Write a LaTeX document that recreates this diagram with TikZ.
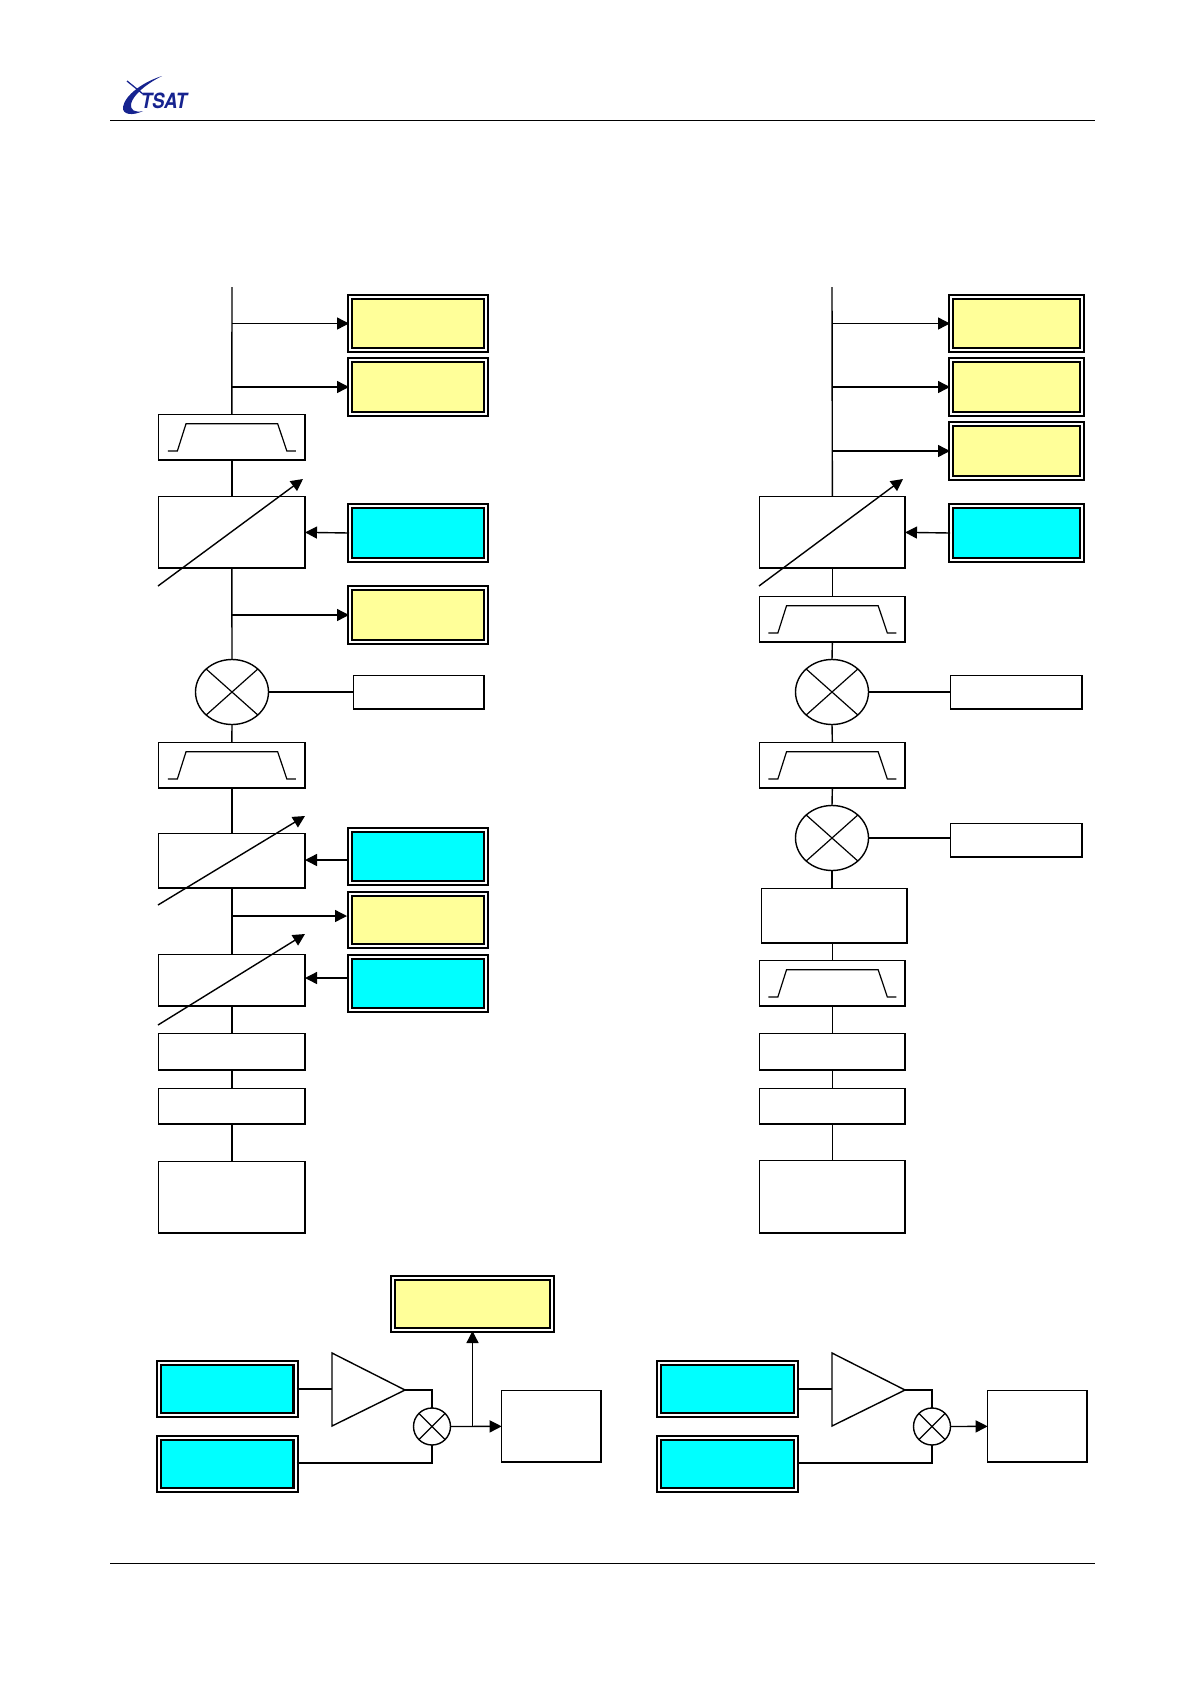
\documentclass[tikz,border=0pt]{standalone}
\usepackage{fontspec}
\setmainfont{TeX Gyre Heros}
\usetikzlibrary{arrows.meta,calc,shapes.geometric}
\definecolor{yel}{HTML}{FFFF99}
\definecolor{cya}{HTML}{00FFFF}
\definecolor{logoblue}{HTML}{16238F}
\tikzset{
  wire/.style={line width=1.4pt,draw=black},
  arr/.style={wire,-{Triangle[length=12pt,width=12pt]}},
  plain/.style={rectangle,draw=black,fill=white,line width=1.4pt,inner sep=0pt,outer sep=0pt},
  dbl/.style={rectangle,draw=black,double=white,double distance=2pt,line width=2.1pt,inner sep=0pt,outer sep=1pt},
  yb/.style={dbl,fill=yel},
  cb/.style={dbl,fill=cya},
  mix/.style={circle,draw=black,fill=white,line width=1.4pt,inner sep=0pt,outer sep=0pt,minimum size=#1},
  bigmix/.style={ellipse,draw=black,fill=white,line width=1.4pt,inner sep=0pt,outer sep=0pt,minimum width=73pt,minimum height=65pt},
  trace/.style={line width=1.4pt,draw=black,line join=miter}
}
% plain box: name, x1,y1,x2,y2
\newcommand{\pb}[5]{\node[plain,minimum width={(#4-#2-0.7)*1pt},minimum height={(#5-#3-0.7)*1pt}] (#1) at ({(#2+#4+0.7)/2},{(#3+#5+0.7)/2}) {};}
% double box: style, name, x1,y1,x2,y2
\newcommand{\db}[6]{\node[#1,minimum width={(#5-#3-6)*1pt},minimum height={(#6-#4-6)*1pt}] (#2) at ({(#3+#5)/2},{(#4+#6)/2}) {};}
\newcommand{\filt}[1]{\draw[trace,line width=1.2pt] ([shift={(-64pt,-13.7pt)}]#1.center) -- ++(9.5pt,0) -- ++(8.7pt,27.4pt) -- ++(91.6pt,0) -- ++(9.2pt,-27.4pt) -- ++(9pt,0);}
\newcommand{\cross}[1]{\draw[trace,line width=1.2pt] (#1.north east) -- (#1.south west) (#1.north west) -- (#1.south east);}
\begin{document}
\begin{tikzpicture}[x=1pt,y=-1pt]
\useasboundingbox (0,0) rectangle (1190,1684);
\fill[white] (0,0) rectangle (1190,1684);
% header and footer
\coordinate (hl) at (110,120); \coordinate (hr) at (1095,120);
\coordinate (fl) at (110,1563); \coordinate (fr) at (1095,1563);
\draw[line width=1pt] (hl) -- (hr);
\draw[line width=1pt] (fl) -- (fr);
% logo
\fill[logoblue] (162,76) .. controls (143,82) and (125,95) .. (123,107) .. controls (122,115) and (133,116) .. (143,111)
  .. controls (135,113) and (130,110) .. (131,104) .. controls (133,95) and (146,84) .. (162,76) -- cycle;
\draw[logoblue,line width=1.3pt] (127,81) -- (143,94);
\node[text=logoblue,font=\bfseries\itshape\fontsize{21}{21}\selectfont,inner sep=0pt,xscale=.88] (logo) at (164,101) {TSAT};

% ===== left chain =====
\coordinate (ltop) at (232,287);
\db{yb}{ly1}{347}{294}{489}{353}
\db{yb}{ly2}{347}{357}{489}{417}
\pb{lf1}{158}{414}{305}{460}
\pb{la1}{158}{496}{305}{568}
\db{cb}{lc1}{347}{503}{489}{563}
\db{yb}{ly3}{347}{585}{489}{645}
\node[bigmix] (lm1) at (232,692) {};
\pb{llo}{353}{675}{484}{709}
\pb{lf2}{158}{742}{305}{788}
\pb{la2}{158}{833}{305}{888}
\db{cb}{lc2}{347}{827}{489}{886}
\db{yb}{ly4}{347}{891}{489}{949}
\pb{la3}{158}{954}{305}{1006}
\db{cb}{lc3}{347}{954}{489}{1013}
\pb{lb1}{158}{1033}{305}{1070}
\pb{lb2}{158}{1088}{305}{1124}
\pb{lb3}{158}{1161}{305}{1233}
\filt{lf1}\filt{lf2}\cross{lm1}
\draw[wire] (ltop) -- (lf1.north);
\draw[wire] (lf1.south) -- (la1.north);
\draw[wire] (la1.south) -- (lm1.north);
\draw[wire] (lm1.south) -- (lf2.north);
\draw[wire] (lf2.south) -- (la2.north);
\draw[wire] (la2.south) -- (la3.north);
\draw[wire] (la3.south) -- (lb1.north);
\draw[wire] (lb1.south) -- (lb2.north);
\draw[wire] (lb2.south) -- (lb3.north);
\coordinate (lay4) at (347,916);
\coordinate (lac2) at (347,860);
\coordinate (lac3) at (347,978);
\draw[arr] (ltop |- ly1.west) -- (ly1.west);
\draw[arr] (ltop |- ly2.west) -- (ly2.west);
\draw[arr] (ltop |- ly3.west) -- (ly3.west);
\draw[arr] (ltop |- lay4) -- (lay4);
\draw[arr] (lc1.west) -- (la1.east);
\draw[arr] (lac2) -- (la2.east |- lac2);
\draw[arr] (lac3) -- (la3.east |- lac3);
\draw[wire] (lm1.east) -- (lm1.east -| llo.west);
\coordinate (ld1a) at (158,586); \coordinate (ld1b) at (303,479);
\coordinate (ld2a) at (158,905); \coordinate (ld2b) at (305,816);
\coordinate (ld3a) at (158,1025); \coordinate (ld3b) at (305,934);
\draw[arr] (ld1a) -- (ld1b);
\draw[arr] (ld2a) -- (ld2b);
\draw[arr] (ld3a) -- (ld3b);

% ===== right chain =====
\coordinate (rtop) at (832,287);
\db{yb}{ry1}{948}{294}{1085}{353}
\db{yb}{ry2}{948}{357}{1085}{417}
\db{yb}{ry3}{948}{421}{1085}{481}
\pb{ra1}{759}{496}{905}{568}
\db{cb}{rc1}{948}{503}{1085}{563}
\pb{rf1}{759}{596}{905}{642}
\node[bigmix] (rm1) at (832,692) {};
\pb{rlo1}{950}{675}{1082}{709}
\pb{rf2}{759}{742}{905}{788}
\node[bigmix] (rm2) at (832,838) {};
\pb{rlo2}{950}{823}{1082}{857}
\pb{rb0}{761}{888}{907}{943}
\pb{rf3}{759}{960}{905}{1006}
\pb{rb1}{759}{1033}{905}{1070}
\pb{rb2}{759}{1088}{905}{1124}
\pb{rb3}{759}{1160}{905}{1233}
\filt{rf1}\filt{rf2}\filt{rf3}\cross{rm1}\cross{rm2}
\draw[wire] (rtop) -- (ra1.north);
\draw[wire] (ra1.south) -- (rf1.north);
\draw[wire] (rf1.south) -- (rm1.north);
\draw[wire] (rm1.south) -- (rf2.north);
\draw[wire] (rf2.south) -- (rm2.north);
\draw[wire] (rm2.south) -- (rm2.south |- rb0.north);
\draw[wire] (rb0.south -| rf3.north) -- (rf3.north);
\draw[wire] (rf3.south) -- (rb1.north);
\draw[wire] (rb1.south) -- (rb2.north);
\draw[wire] (rb2.south) -- (rb3.north);
\draw[arr] (rtop |- ry1.west) -- (ry1.west);
\draw[arr] (rtop |- ry2.west) -- (ry2.west);
\draw[arr] (rtop |- ry3.west) -- (ry3.west);
\draw[arr] (rc1.west) -- (ra1.east);
\draw[wire] (rm1.east) -- (rm1.east -| rlo1.west);
\draw[wire] (rm2.east) -- (rm2.east -| rlo2.west);
\coordinate (rd1a) at (759,586); \coordinate (rd1b) at (903,479);
\draw[arr] (rd1a) -- (rd1b);

% ===== bottom left =====
\db{yb}{by}{390}{1275}{555}{1333}
\db{cb}{bc1}{156}{1360}{298.5}{1418}
\db{cb}{bc2}{156}{1435}{298.5}{1493}
\coordinate (at1) at (332,1353); \coordinate (at2) at (332,1426); \coordinate (atip) at (405,1390);
\draw[trace] (at1) -- (atip) -- (at2) -- cycle;
\node[mix=37pt] (bm) at (432,1426.5) {};
\cross{bm}
\pb{bbox}{501}{1390}{601}{1462}
\draw[wire] (bc1.east) -- (at1 |- bc1.east);
\draw[wire] (atip) -| (bm.north);
\draw[wire] (bc2.east |- 0,1463) -| (bm.south);
\draw[arr] (bm.east) -- (bbox.west);
\draw[arr] (by.south |- bbox.west) -- (by.south);

% ===== bottom right =====
\db{cb}{cc1}{656}{1360}{799}{1418}
\db{cb}{cc2}{656}{1435}{799}{1493}
\coordinate (ct1) at (832,1353); \coordinate (ct2) at (832,1426); \coordinate (ctip) at (905,1390);
\draw[trace] (ct1) -- (ctip) -- (ct2) -- cycle;
\node[mix=37pt] (cm) at (932,1426.5) {};
\cross{cm}
\pb{cbox}{987}{1390}{1087}{1462}
\draw[wire] (cc1.east) -- (ct1 |- cc1.east);
\draw[wire] (ctip) -| (cm.north);
\draw[wire] (cc2.east |- 0,1463) -| (cm.south);
\draw[arr] (cm.east) -- (cbox.west);
\end{tikzpicture}
\end{document}
